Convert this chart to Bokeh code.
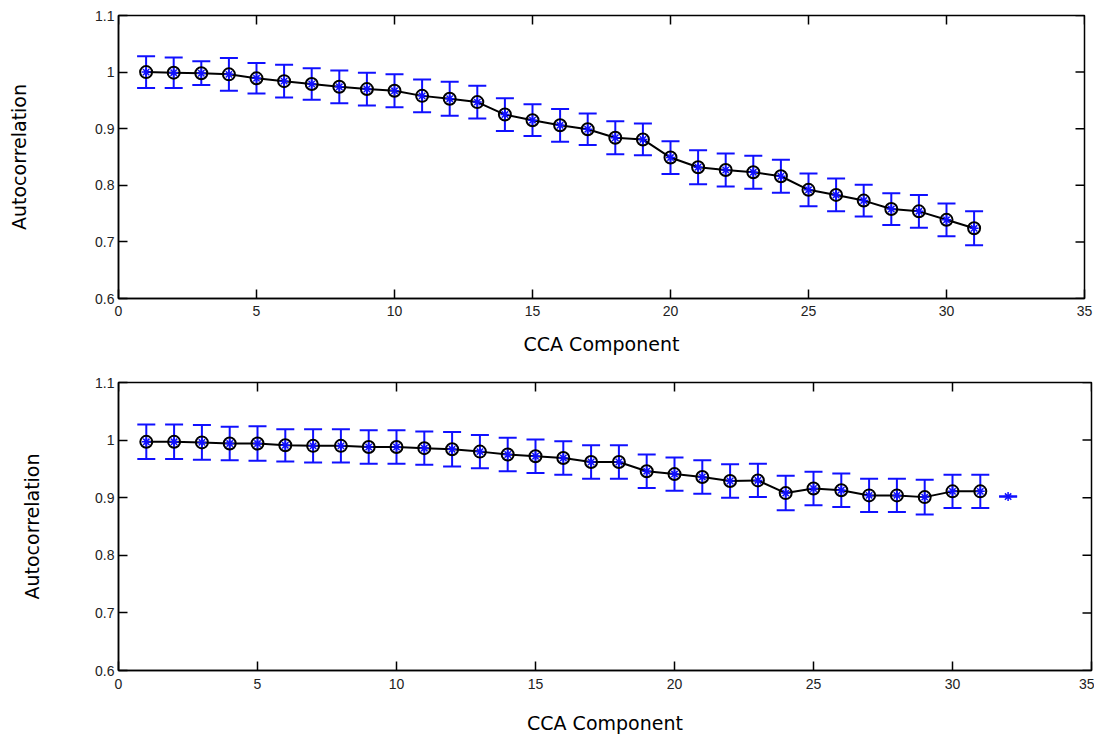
import math
from bokeh.plotting import figure
from bokeh.layouts import column
from bokeh.models import ColumnDataSource, Whisker, TeeHead, Range1d, FixedTicker
from bokeh.embed import file_html
from bokeh.resources import INLINE

# ---------------- data ----------------
comp_top = list(range(1, 32))
auto_top = [1.000, 0.999, 0.998, 0.996, 0.989, 0.984, 0.979, 0.974, 0.970, 0.967,
            0.958, 0.953, 0.947, 0.925, 0.915, 0.906, 0.899, 0.884, 0.881, 0.849,
            0.832, 0.827, 0.823, 0.816, 0.792, 0.783, 0.773, 0.758, 0.754, 0.739,
            0.724]
err_top = [0.028, 0.027, 0.021, 0.029, 0.027, 0.029, 0.028, 0.029, 0.029, 0.029,
           0.029, 0.030, 0.029, 0.029, 0.028, 0.029, 0.028, 0.029, 0.028, 0.029,
           0.030, 0.029, 0.029, 0.029, 0.029, 0.029, 0.028, 0.028, 0.029, 0.029,
           0.030]

comp_bot = list(range(1, 33))
auto_bot = [0.997, 0.997, 0.996, 0.994, 0.994, 0.991, 0.990, 0.990, 0.988, 0.988,
            0.986, 0.984, 0.980, 0.975, 0.972, 0.969, 0.962, 0.962, 0.946, 0.941,
            0.936, 0.929, 0.930, 0.908, 0.916, 0.913, 0.904, 0.904, 0.901, 0.911,
            0.911, 0.902]
err_bot = [0.030, 0.030, 0.030, 0.029, 0.030, 0.028, 0.029, 0.029, 0.029, 0.029,
           0.029, 0.030, 0.029, 0.029, 0.029, 0.029, 0.029, 0.029, 0.029, 0.029,
           0.029, 0.029, 0.029, 0.030, 0.029, 0.029, 0.029, 0.029, 0.030, 0.029,
           0.029, 0.000]
n_line_bot = 31  # black line/circles only for the first 31 components

x_ticks = [0, 5, 10, 15, 20, 25, 30, 35]
y_ticks = [0.6, 0.7, 0.8, 0.9, 1.0, 1.1]
y_tick_labels = ["0.6", "0.7", "0.8", "0.9", "1", "1.1"]
x_label = "CCA Component"
y_label = "Autocorrelation"

TICK_FONT = "Liberation Sans"
LABEL_FONT = "DejaVu Sans"
BLUE = "#1010ff"


def make_panel(xs, ys, errs, n_line, frame_w, frame_h, borders, xl_standoff,
               yl_standoff, xt_standoff):
    left, right, top, bottom = borders
    x0, x1, y0, y1 = 0, 35, 0.6, 1.1
    p = figure(frame_width=frame_w, frame_height=frame_h,
               min_border_left=left, min_border_right=right,
               min_border_top=top, min_border_bottom=bottom,
               x_range=Range1d(x0, x1), y_range=Range1d(y0, y1),
               output_backend="svg", toolbar_location=None,
               background_fill_color="white", border_fill_color="white")
    p.xgrid.visible = False
    p.ygrid.visible = False
    p.outline_line_color = "black"
    p.outline_line_width = 1.5

    for ax in p.xaxis:
        ax.ticker = FixedTicker(ticks=x_ticks)
        ax.axis_label = x_label
        ax.axis_label_standoff = xl_standoff
        ax.major_label_standoff = xt_standoff
    for ax in p.yaxis:
        ax.ticker = FixedTicker(ticks=y_ticks)
        ax.major_label_overrides = {v: s for v, s in zip(y_ticks, y_tick_labels)}
        ax.axis_label = y_label
        ax.axis_label_standoff = yl_standoff
        ax.major_label_standoff = 4
    for ax in list(p.xaxis) + list(p.yaxis):
        ax.axis_label_text_font = LABEL_FONT
        ax.axis_label_text_font_size = "19px"
        ax.axis_label_text_font_style = "normal"
        ax.axis_label_text_color = "black"
        ax.major_label_text_font = TICK_FONT
        ax.major_label_text_font_size = "14px"
        ax.major_label_text_color = "#222222"
        ax.major_tick_in = 9
        ax.major_tick_out = 0
        ax.minor_tick_line_color = None
        ax.axis_line_color = "black"
        ax.axis_line_width = 1.5
        ax.major_tick_line_color = "black"
        ax.major_tick_line_width = 1.5

    # mirrored inward ticks on the top and right frame edges
    p.ray(x=x_ticks, y=[y1] * len(x_ticks), length=9, length_units="screen",
          angle=-math.pi / 2, line_color="black", line_width=1.5)
    p.ray(x=[x1] * len(y_ticks), y=y_ticks, length=9, length_units="screen",
          angle=math.pi, line_color="black", line_width=1.5)

    src = ColumnDataSource(data=dict(
        x=xs, y=ys,
        upper=[v + e for v, e in zip(ys, errs)],
        lower=[v - e for v, e in zip(ys, errs)],
    ))
    line_src = ColumnDataSource(data=dict(x=xs[:n_line], y=ys[:n_line]))

    w = Whisker(base="x", upper="upper", lower="lower", source=src,
                dimension="height", line_color=BLUE, line_width=2,
                upper_head=TeeHead(size=18, line_color=BLUE, line_width=2),
                lower_head=TeeHead(size=18, line_color=BLUE, line_width=2))
    p.add_layout(w)

    p.line("x", "y", source=line_src, line_color="black", line_width=2)
    p.scatter("x", "y", source=line_src, marker="circle", size=12,
              fill_color=None, line_color="black", line_width=2)
    p.scatter("x", "y", source=src, marker="asterisk", size=9,
              line_color=BLUE, line_width=1.5)
    return p


p1 = make_panel(comp_top, auto_top, err_top, len(comp_top),
                frame_w=966, frame_h=283, borders=(118, 10, 15, 67),
                xl_standoff=14, yl_standoff=62, xt_standoff=7)
p2 = make_panel(comp_bot, auto_bot, err_bot, n_line_bot,
                frame_w=973, frame_h=288, borders=(116, 5, 17, 56),
                xl_standoff=20, yl_standoff=49, xt_standoff=8)

layout = column(p1, p2, spacing=0)
open("out.html", "w").write(file_html(layout, INLINE))
